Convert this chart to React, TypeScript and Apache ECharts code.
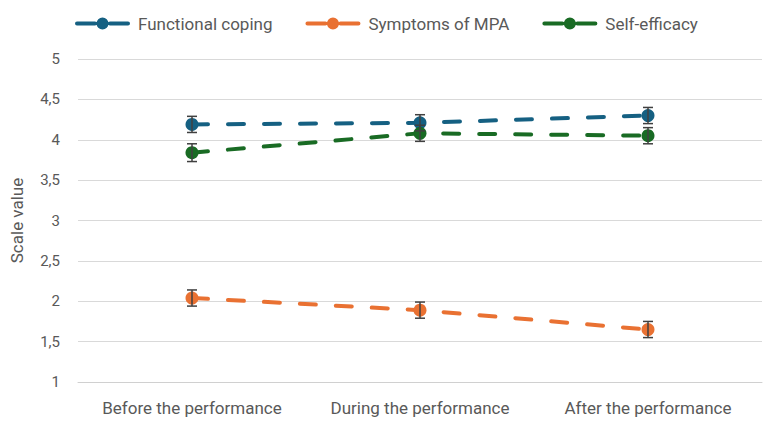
import React, { useEffect, useRef } from "react";
import * as echarts from "echarts";

const categories = ["Before the performance", "During the performance", "After the performance"];
const functionalCoping = [4.19, 4.21, 4.3];
const functionalCopingErr = [0.1, 0.1, 0.1];
const symptomsMPA = [2.04, 1.89, 1.65];
const symptomsMPAErr = [0.1, 0.1, 0.1];
const selfEfficacy = [3.84, 4.08, 4.05];
const selfEfficacyErr = [0.11, 0.1, 0.1];
const yTicks = [1, 1.5, 2, 2.5, 3, 3.5, 4, 4.5, 5];

const FONT = "Roboto, sans-serif";
const TEXT = "#595959";
const LEGEND_ICON =
  "path://M2,4.5 H20 A2,2 0 0 1 20,8.5 H2 A2,2 0 0 1 2,4.5 Z M21.5,6.5 A6,6 0 1 1 33.5,6.5 A6,6 0 1 1 21.5,6.5 Z M35,4.5 H53 A2,2 0 0 1 53,8.5 H35 A2,2 0 0 1 35,4.5 Z";

const seriesDefs = [
  { name: "Functional coping", color: "#156082", values: functionalCoping, errs: functionalCopingErr },
  { name: "Symptoms of MPA", color: "#E97132", values: symptomsMPA, errs: symptomsMPAErr },
  { name: "Self-efficacy", color: "#196B24", values: selfEfficacy, errs: selfEfficacyErr },
];

export default function App() {
  const ref = useRef<HTMLDivElement>(null);
  useEffect(() => {
    if (!ref.current) return;
    const chart = echarts.init(ref.current, undefined, { renderer: "svg" });
    const lineSeries = seriesDefs.map((s) => ({
      name: s.name,
      type: "line",
      data: s.values,
      symbol: "circle",
      symbolSize: 13,
      z: 3,
      itemStyle: { color: s.color },
      lineStyle: { color: s.color, width: 4, type: [16, 20], cap: "round" },
    }));
    const errSeries = seriesDefs.map((s) => ({
      name: s.name + " err",
      type: "custom",
      z: 4,
      data: s.values.map((v, i) => [i, v - s.errs[i], v + s.errs[i]]),
      renderItem: (params: any, api: any) => {
        const x = api.value(0);
        const lo = api.coord([x, api.value(1)]);
        const hi = api.coord([x, api.value(2)]);
        const w = 5;
        const style = { stroke: "#404040", lineWidth: 1.5 };
        return {
          type: "group",
          children: [
            { type: "line", shape: { x1: lo[0], y1: lo[1], x2: hi[0], y2: hi[1] }, style },
            { type: "line", shape: { x1: lo[0] - w, y1: lo[1], x2: lo[0] + w, y2: lo[1] }, style },
            { type: "line", shape: { x1: hi[0] - w, y1: hi[1], x2: hi[0] + w, y2: hi[1] }, style },
          ],
        };
      },
    }));
    chart.setOption({
      animation: false,
      textStyle: { fontFamily: FONT },
      legend: {
        top: 10,
        left: 70,
        itemWidth: 55,
        itemHeight: 13,
        itemGap: 33,
        icon: LEGEND_ICON,
        data: seriesDefs.map((s) => ({ name: s.name, itemStyle: { color: s.color } })),
        textStyle: { color: TEXT, fontSize: 17, fontFamily: FONT, padding: [0, 0, 0, 3] },
      },
      grid: { left: 71, right: 5, top: 59, bottom: 40 },
      xAxis: {
        type: "category",
        data: categories,
        axisLine: { lineStyle: { color: "#d0d0d0", width: 1 } },
        axisTick: { show: false },
        axisLabel: { color: TEXT, fontSize: 17, margin: 17, fontFamily: FONT, interval: 0 },
      },
      yAxis: {
        type: "value",
        min: 1,
        max: 5,
        interval: 0.5,
        name: "Scale value",
        nameLocation: "middle",
        nameGap: 53,
        nameTextStyle: { color: TEXT, fontSize: 17, fontFamily: FONT },
        axisLine: { show: false },
        axisTick: { show: false },
        splitLine: { lineStyle: { color: "#d9d9d9", width: 1 } },
        axisLabel: {
          color: TEXT,
          fontSize: 15,
          margin: 18,
          fontFamily: FONT,
          formatter: (v: number) => (yTicks.includes(v) ? String(v).replace(".", ",") : ""),
        },
      },
      series: [...lineSeries, ...errSeries],
    });
    return () => chart.dispose();
  }, []);
  return (
    <div
      ref={ref}
      style={{ position: "absolute", left: 0, top: 0, width: 767, height: 422 }}
    />
  );
}
